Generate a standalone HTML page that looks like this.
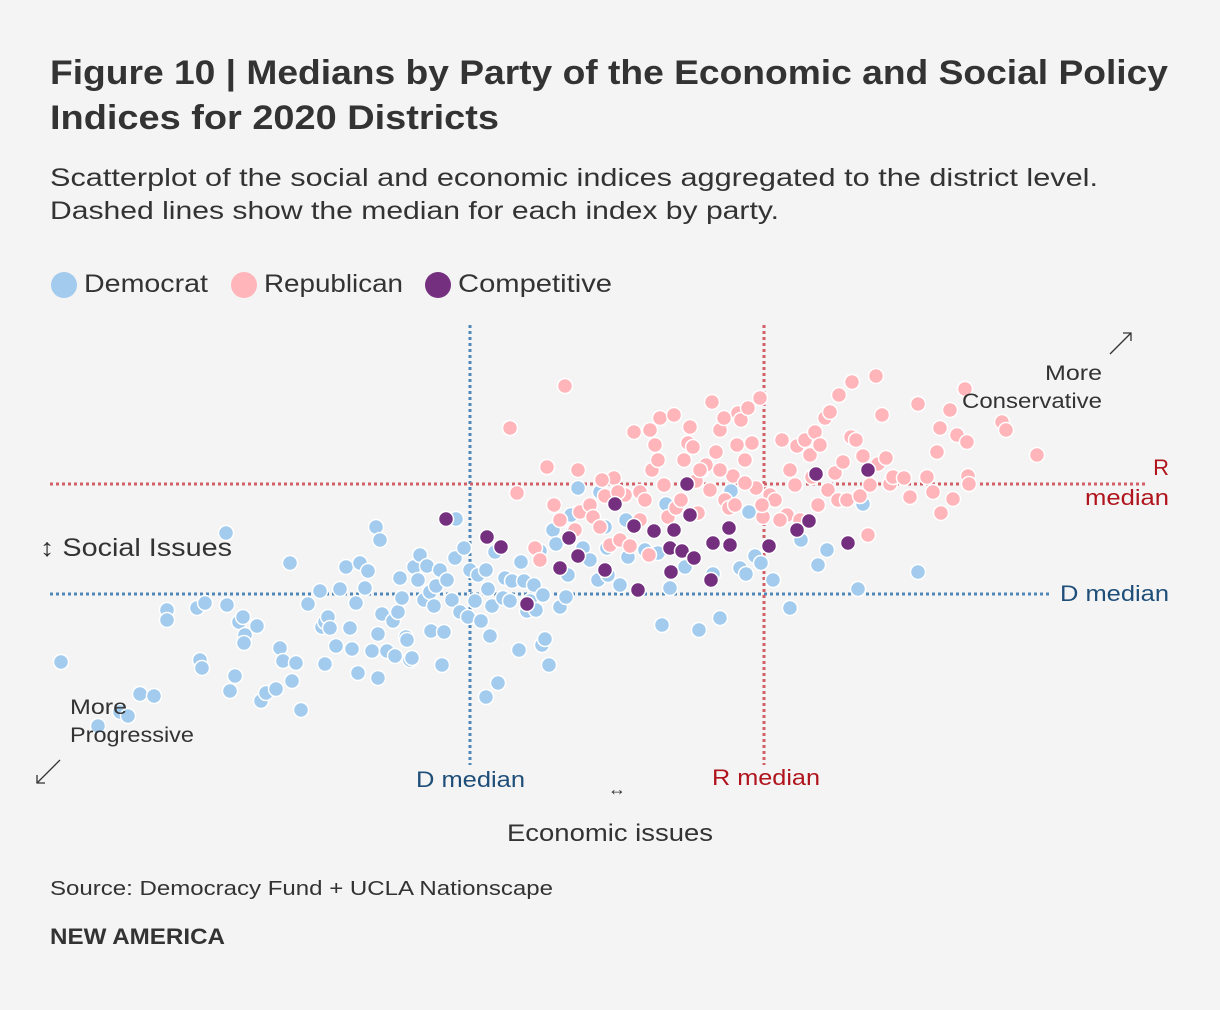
<!DOCTYPE html>
<html><head><meta charset="utf-8">
<style>
html,body{margin:0;padding:0;background:#f4f4f4;}
body{width:1220px;height:1010px;overflow:hidden;font-family:"Liberation Sans",sans-serif;color:#333;}
svg{display:block}
</style></head>
<body>
<svg id="chart" width="1220" height="1010" viewBox="0 0 1220 1010" xmlns="http://www.w3.org/2000/svg">
<rect width="1220" height="1010" fill="#f4f4f4"/>
<text x="50" y="84" font-size="34" font-weight="bold" fill="#333" textLength="1118" lengthAdjust="spacingAndGlyphs">Figure 10 | Medians by Party of the Economic and Social Policy</text>
<text x="50" y="129" font-size="34" font-weight="bold" fill="#333" textLength="449" lengthAdjust="spacingAndGlyphs">Indices for 2020 Districts</text>
<text x="50" y="186" font-size="25" fill="#333" textLength="1048" lengthAdjust="spacingAndGlyphs">Scatterplot of the social and economic indices aggregated to the district level.</text>
<text x="50" y="219" font-size="25" fill="#333" textLength="729" lengthAdjust="spacingAndGlyphs">Dashed lines show the median for each index by party.</text>
<g>
<circle cx="64" cy="285" r="13" fill="#a2cbee"/>
<text x="84" y="292" font-size="25" fill="#333" textLength="124" lengthAdjust="spacingAndGlyphs">Democrat</text>
<circle cx="244" cy="285" r="13" fill="#ffb5ba"/>
<text x="264" y="292" font-size="25" fill="#333" textLength="139" lengthAdjust="spacingAndGlyphs">Republican</text>
<circle cx="438" cy="285" r="13" fill="#74307f"/>
<text x="458" y="292" font-size="25" fill="#333" textLength="154" lengthAdjust="spacingAndGlyphs">Competitive</text>
</g>
<g id="lines"></g>
<g id="dots"></g>
<g font-size="22">
<text x="1169" y="475" text-anchor="end" fill="#b0141c">R</text>
<text x="1169" y="505" text-anchor="end" fill="#b0141c" textLength="84" lengthAdjust="spacingAndGlyphs">median</text>
<text x="1060" y="601" fill="#1f4e79" textLength="109" lengthAdjust="spacingAndGlyphs">D median</text>
<text x="416" y="787" fill="#1f4e79" textLength="109" lengthAdjust="spacingAndGlyphs">D median</text>
<text x="712" y="785" fill="#b0141c" textLength="108" lengthAdjust="spacingAndGlyphs">R median</text>
<text x="617" y="795" text-anchor="middle" font-size="18" fill="#333">↔</text>
<text x="507" y="841" font-size="24" fill="#333" textLength="206" lengthAdjust="spacingAndGlyphs">Economic issues</text>
<text x="40" y="556" font-size="25" fill="#333" textLength="192" lengthAdjust="spacingAndGlyphs">↕ Social Issues</text>
<text x="1045" y="380" font-size="21" fill="#333" textLength="57" lengthAdjust="spacingAndGlyphs">More</text>
<text x="962" y="408" font-size="21" fill="#333" textLength="140" lengthAdjust="spacingAndGlyphs">Conservative</text>
<line x1="1110" y1="354" x2="1131" y2="333" stroke="#333" stroke-width="1.3"/>
<path d="M1123 333 L1131 333 L1131 341" fill="none" stroke="#333" stroke-width="1.3"/>
<text x="70" y="714" font-size="21" fill="#333" textLength="57" lengthAdjust="spacingAndGlyphs">More</text>
<text x="70" y="742" font-size="21" fill="#333" textLength="124" lengthAdjust="spacingAndGlyphs">Progressive</text>
<line x1="60" y1="760" x2="37" y2="783" stroke="#333" stroke-width="1.3"/>
<path d="M37 775 L37 783 L45 783" fill="none" stroke="#333" stroke-width="1.3"/>
</g>
<text x="50" y="895" font-size="20" fill="#333" textLength="503" lengthAdjust="spacingAndGlyphs">Source: Democracy Fund + UCLA Nationscape</text>
<text x="50" y="944" font-size="22" font-weight="bold" fill="#333" textLength="175" lengthAdjust="spacingAndGlyphs">NEW AMERICA</text>
</svg>
<script>
// values in chart index units (linear scales below)
const demX=[61,98,120,128,140,154,167,167,197,205,200,202,226,227,230,235,239,243,245,244,257,261,266,276,280,283,292,296,301,290,308,320,322,325,325,328,330,336,340,346,350,352,356,358,360,365,368,372,376,378,378,380,382,387,393,395,398,400,402,406,407,410,412,414,418,420,424,427,430,431,434,436,440,442,444,447,452,455,456,460,464,468,470,475,478,481,486,488,490,492,495,498,486,503,505,510,512,519,521,524,527,530,534,540,542,543,545,549,553,556,560,566,571,573,578,583,590,600,605,607,620,626,628,645,658,662,666,670,685,699,713,720,731,740,746,749,755,761,773,790,801,818,827,858,863,918,598,608,568,536];
const demY=[662,726,712,716,694,696,610,620,608,603,660,668,533,605,691,676,622,617,635,643,626,701,693,689,648,661,681,663,710,563,604,591,627,622,664,617,628,646,589,567,628,649,603,673,563,588,571,651,527,634,678,540,614,651,621,656,612,578,598,637,640,660,658,567,580,555,600,566,592,631,606,586,570,665,632,580,600,558,519,612,548,617,570,601,575,621,570,589,636,606,552,683,697,598,578,601,581,650,562,581,611,601,585,551,645,595,639,665,530,544,607,597,515,531,488,548,560,492,527,548,585,520,557,550,553,625,504,588,567,630,574,618,491,568,574,512,556,563,580,608,540,565,550,589,504,572,580,575,575,610];
const repX=[510,565,547,517,535,540,554,560,575,580,590,593,600,605,610,614,620,625,630,634,640,645,649,652,655,658,660,664,668,674,676,681,684,688,693,696,698,702,706,710,712,716,720,724,725,729,733,737,738,741,745,748,752,756,760,763,770,775,782,787,790,795,797,805,810,812,815,818,820,825,828,830,835,838,843,847,851,856,860,863,868,870,876,878,882,886,890,893,904,910,918,927,933,937,940,941,950,953,957,965,967,968,969,1002,1006,1037,839,852,618,700,745,762,780,800,578,602,640,650,690,720,735];
const repY=[428,386,467,493,548,560,505,520,530,512,505,517,527,496,545,478,540,495,546,432,492,500,555,470,445,460,418,485,517,415,508,500,460,443,447,481,513,470,465,490,402,452,430,418,500,508,476,445,413,420,460,408,443,488,398,517,495,500,440,515,470,485,446,440,455,477,432,505,445,418,490,412,473,500,462,500,437,440,496,456,535,485,376,464,415,458,484,477,478,497,404,477,492,452,428,513,410,499,435,389,442,476,484,422,430,455,395,382,492,470,483,505,520,520,470,480,520,430,427,470,505];
const compX=[446,487,501,569,578,560,527,615,634,654,674,690,687,670,682,694,671,605,638,711,713,729,730,769,797,809,816,848,868];
const compY=[519,537,547,538,556,568,604,504,526,531,530,515,484,548,551,558,572,570,590,580,543,528,545,546,530,521,474,543,470];
const medians=[{name:'d-median',x:470,y:594,color:'#4f87b8',xEnd:1050},{name:'r-median',x:764,y:484,color:'#d05f66',xEnd:1145}];

const xDomain=[0,1220], xRange=[0,1220];
const yDomain=[0,1010], yRange=[0,1010];
function xScale(v){return xRange[0]+(v-xDomain[0])/(xDomain[1]-xDomain[0])*(xRange[1]-xRange[0]);}
function yScale(v){return yRange[0]+(v-yDomain[0])/(yDomain[1]-yDomain[0])*(yRange[1]-yRange[0]);}
const NS='http://www.w3.org/2000/svg';
const lines=document.getElementById('lines');
medians.forEach(m=>{
  const v=document.createElementNS(NS,'line');
  
  
  v.setAttribute('x1',xScale(m.x));v.setAttribute('x2',xScale(m.x));
  v.setAttribute('y1',yScale(325));v.setAttribute('y2',yScale(765));
  v.setAttribute('stroke',m.color);v.setAttribute('stroke-width','3');v.setAttribute('stroke-dasharray','3,3');
  lines.appendChild(v);
  const h=document.createElementNS(NS,'line');
  
  
  h.setAttribute('x1',xScale(50));h.setAttribute('x2',xScale(m.xEnd));
  h.setAttribute('y1',yScale(m.y));h.setAttribute('y2',yScale(m.y));
  h.setAttribute('stroke',m.color);h.setAttribute('stroke-width','3');h.setAttribute('stroke-dasharray','3,3');
  lines.appendChild(h);
});
const dots=document.getElementById('dots');
function drawSeries(xs,ys,color,name){
  xs.forEach((x,i)=>{
    const c=document.createElementNS(NS,'circle');
    
    
    c.setAttribute('cx',xScale(x));c.setAttribute('cy',yScale(ys[i]));c.setAttribute('r','7.5');
    c.setAttribute('fill',color);c.setAttribute('stroke','#fff');c.setAttribute('stroke-width','1.5');
    dots.appendChild(c);
  });
}
drawSeries(demX,demY,'#a2cbee','democrat-district-dot');
drawSeries(repX,repY,'#ffb5ba','republican-district-dot');
drawSeries(compX,compY,'#74307f','competitive-district-dot');
</script>
</body></html>
